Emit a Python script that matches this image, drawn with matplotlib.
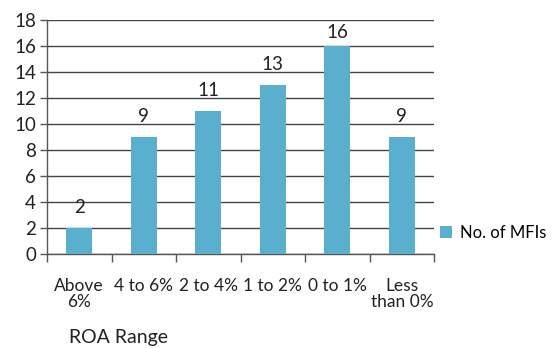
import numpy as np
import matplotlib
matplotlib.use('Agg')
import matplotlib.pyplot as plt

# ROA ranges and number of MFIs in each
categories = ['Above\n6%', '4 to 6%', '2 to 4%', '1 to 2%', '0 to 1%', 'Less\nthan 0%']
counts = [2, 9, 11, 13, 16, 9]
y_ticks = [0, 2, 4, 6, 8, 10, 12, 14, 16, 18]

plt.rcParams['font.family'] = ['Lato', 'DejaVu Sans']

fig = plt.figure(figsize=(5.53, 3.48), dpi=100)
ax = fig.add_axes([0.085, 0.270, 0.700, 0.6725])

x = np.arange(len(categories))
bars = ax.bar(x, counts, width=0.4, color='#5AAFCF', label='No. of MFIs', zorder=3)

# value labels above the bars (kept inside the plot area at the top)
for xi, v in zip(x, counts):
    ax.text(xi, min(v + 1.55, 17.05), str(v), ha='center', va='center',
            fontsize=13.5, color='#222222')

ax.set_ylim(0, 18)
ax.set_xlim(-0.5, len(categories) - 0.5)
ax.set_yticks(y_ticks)
ax.yaxis.grid(True, color='#444444', linewidth=1.0, zorder=0)
ax.tick_params(axis='y', labelsize=13.5, length=5, color='#555555', width=1.0, pad=3, labelcolor='#222222')

# ticks on category boundaries, labels in between
ax.set_xticks(np.arange(len(categories) + 1) - 0.5)
ax.set_xticklabels([])
ax.set_xticks(x, minor=True)
ax.set_xticklabels(categories, minor=True, fontsize=12.5, linespacing=1.05)
ax.tick_params(axis='x', which='major', length=6, color='#555555', width=1.0)
ax.tick_params(axis='x', which='minor', length=0, pad=17, labelcolor='#222222')

for side in ['top', 'right']:
    ax.spines[side].set_visible(False)
ax.spines['left'].set_color('#555555')
ax.spines['bottom'].set_color('#555555')
ax.spines['left'].set_linewidth(1.0)
ax.spines['bottom'].set_linewidth(1.0)

fig.text(0.215, 0.030, 'ROA Range', ha='center', va='center', fontsize=14, color='#222222')

fig.legend(handles=[bars], labels=['No. of MFIs'], loc='center left',
           bbox_to_anchor=(0.795, 0.33), frameon=False, fontsize=12,
           handlelength=0.75, handleheight=0.75, handletextpad=0.45,
           borderaxespad=0, borderpad=0)

fig.savefig('out.png', dpi=100)
